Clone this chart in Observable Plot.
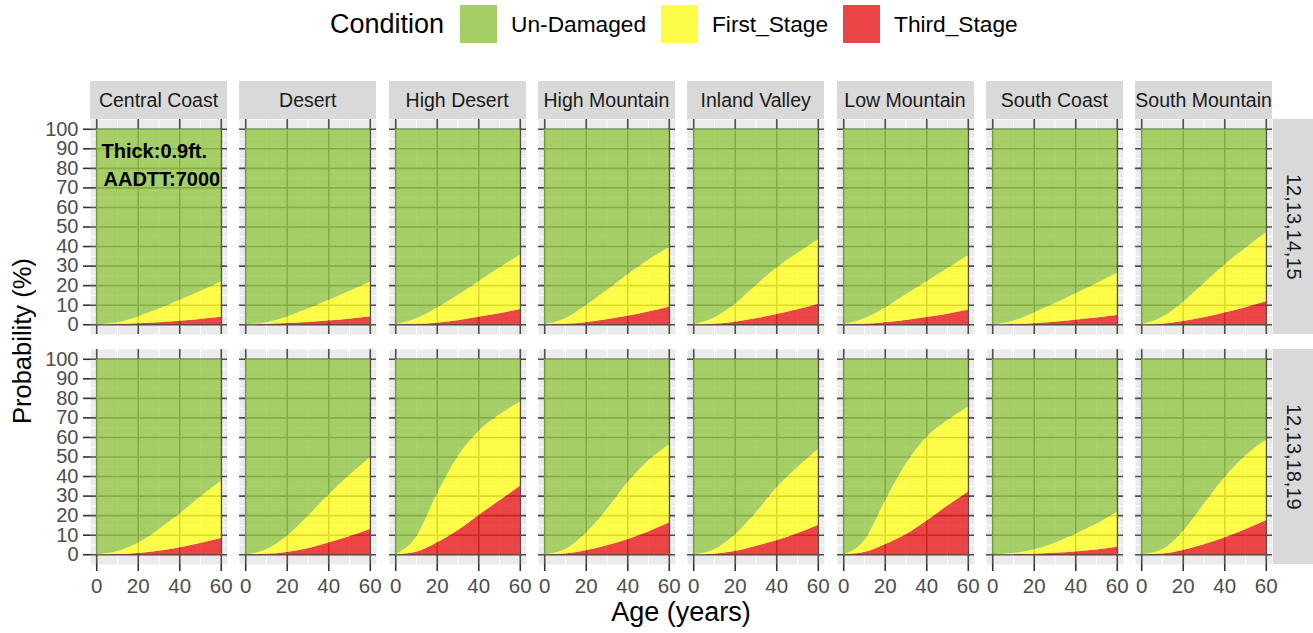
<!DOCTYPE html>
<html><head><meta charset="utf-8">
<script src="https://cdn.jsdelivr.net/npm/d3@7"></script>
<script src="https://cdn.jsdelivr.net/npm/@observablehq/plot@0.6"></script>
<style>
body{margin:0;background:#fff;font-family:"Liberation Sans",Arial,Helvetica,sans-serif;}
#root{position:relative;width:1313px;height:633px;overflow:hidden;background:#fff;}
.abs{position:absolute;}
.strip{position:absolute;background:#D9D9D9;color:#1A1A1A;font-size:19.5px;display:flex;align-items:center;justify-content:center;overflow:hidden;white-space:nowrap;}
.rstrip{writing-mode:vertical-rl;font-size:20px;}
.legend{position:absolute;top:5px;left:330px;height:38px;display:flex;align-items:center;white-space:nowrap;color:#000;}
.ltitle{font-size:27px;}
.lkey{width:37px;height:38px;background:#EBEBEB;position:relative;}
.lkey div{position:absolute;inset:0;opacity:0.8;}
.llab{font-size:22.7px;}
</style></head><body><div id="root"></div>
<script>
// ---- data ----
const regions = ["Central Coast","Desert","High Desert","High Mountain","Inland Valley","Low Mountain","South Coast","South Mountain"];
const ageGroups = ["12,13,14,15","12,13,18,19"];
const conditions = ["Un-Damaged","First_Stage","Third_Stage"];
const conditionColors = ["#94C745","#FFFF1F","#EB1A1A"];
const ages = [0,10,20,30,40,50,60];
const xTicks = [0,20,40,60];
const yTicks = [0,10,20,30,40,50,60,70,80,90,100];
const annotations = ["Thick:0.9ft.","AADTT:7000"];

// First_Stage probability (%) by region, age group 12,13,14,15
const firstStage_12_13_14_15 = [
  [0,0.9,3.5,7,10.7,14.3,18.2],
  [0,0.9,3.4,6.9,10.6,14.2,17.9],
  [0,2.8,7.8,13,18.2,23.4,27.7],
  [0,2.8,8.8,15,21.3,26.5,30.5],
  [0,3.2,9.2,17,23.8,28.9,33.2],
  [0,2.8,7.6,13.1,18.3,23.3,27.9],
  [0,1.7,5.5,9.5,13.6,17.6,21.7],
  [0,3.5,9.9,17.4,24.6,30.3,35.3]
];
// Third_Stage probability (%) by region, age group 12,13,14,15
const thirdStage_12_13_14_15 = [
  [0,0.1,0.5,1,1.8,2.7,3.8],
  [0,0.1,0.6,1.1,1.9,2.8,3.9],
  [0,0.2,0.8,2,3.8,5.6,7.8],
  [0,0.2,1,2.5,4.3,6.5,9],
  [0,0.3,1.3,3,5.2,7.6,10.3],
  [0,0.2,1,2.2,3.7,5.4,7.4],
  [0,0.1,0.5,1.3,2.3,3.4,4.7],
  [0,0.3,1.6,3.6,6,8.7,11.7]
];
// First_Stage probability (%) by region, age group 12,13,18,19
const firstStage_12_13_18_19 = [
  [0,1.5,5.3,11,17.3,23.8,29.4],
  [0,2.3,8.3,16.5,24.5,31.3,36.7],
  [0,7.7,25,37.7,43,44,43],
  [0,2.3,9,18.4,29.1,36.4,40],
  [0,2.2,8.6,17.2,27.1,33.8,39],
  [0,5.9,22.3,36,42.9,43.7,43.5],
  [0,0.55,2.2,5.2,9.2,13.2,17.9],
  [0,2.1,9.7,20.6,30.9,37.7,41.2]
];
// Third_Stage probability (%) by region, age group 12,13,18,19
const thirdStage_12_13_18_19 = [
  [0,0.1,0.6,1.8,3.5,5.7,8.3],
  [0,0.2,1.1,3,6,9.2,12.9],
  [0,1.3,6,12.3,20,27.5,35],
  [0,0.4,2,4.6,7.7,11.6,16.2],
  [0,0.3,1.6,4.2,7.1,10.7,15],
  [0,1.1,5.1,10.2,17.1,24.8,32],
  [0,0.05,0.3,0.7,1.4,2.4,3.8],
  [0,0.4,2.2,5.1,8.5,12.8,17.4]
];

// ---- layout ----
const root = document.getElementById("root");
const FONT = '"Liberation Sans",Arial,Helvetica,sans-serif';
const plotLeft = 90, colStep = 149.3, pw = 137, ph = 215;
const rowTops = [119, 349];
const stripTop = 81, stripH = 38;
const firstByRow = [firstStage_12_13_14_15, firstStage_12_13_18_19];
const thirdByRow = [thirdStage_12_13_14_15, thirdStage_12_13_18_19];
const xMinor = [10,30,50];
const yMinor = d3.range(5,100,10);

// legend
const leg = document.createElement("div");
leg.className = "legend";
let html = '<span class="ltitle">Condition</span>';
conditions.forEach((c,i) => {
  html += `<span class="lkey" style="margin-left:${i===0?16:15}px"><div style="background:${conditionColors[i]}"></div></span>`;
  html += `<span class="llab" style="margin-left:14px">${c}</span>`;
});
leg.innerHTML = html;
root.appendChild(leg);

// column strips
regions.forEach((r,c) => {
  const s = document.createElement("div");
  s.className = "strip";
  s.style.left = (plotLeft + c*colStep) + "px";
  s.style.top = stripTop + "px";
  s.style.width = pw + "px";
  s.style.height = stripH + "px";
  s.textContent = r;
  root.appendChild(s);
});
// row strips
ageGroups.forEach((g,r) => {
  const s = document.createElement("div");
  s.className = "strip rstrip";
  s.style.left = "1273px";
  s.style.top = rowTops[r] + "px";
  s.style.width = "40px";
  s.style.height = ph + "px";
  s.textContent = g;
  root.appendChild(s);
});

function panel(r, c) {
  const ml = c === 0 ? 90 : 0;
  const mb = r === 1 ? 50 : 0;
  const first = firstByRow[r][c], third = thirdByRow[r][c];
  const rows = [];
  ages.forEach((a,i) => {
    rows.push({age:a, condition:"Third_Stage", value:third[i]});
    rows.push({age:a, condition:"First_Stage", value:first[i]});
    rows.push({age:a, condition:"Un-Damaged", value:100 - first[i] - third[i]});
  });
  const marks = [
    Plot.frame({fill:"#EBEBEB"}),
    Plot.ruleX(xMinor, {stroke:"#fff", strokeWidth:1}),
    Plot.ruleY(yMinor, {stroke:"#fff", strokeWidth:1}),
    Plot.ruleX(xTicks, {stroke:"#4D4D4D", strokeWidth:1.6}),
    Plot.ruleY(yTicks, {stroke:"#4D4D4D", strokeWidth:1.6}),
    Plot.areaY(rows, {x:"age", y:"value", fill:"condition", order:["Third_Stage","First_Stage","Un-Damaged"], curve:"monotone-x", fillOpacity:0.8})
  ];
  if (c === 0) marks.push(Plot.axisY(yTicks, {tickSize:7, tickPadding:5, fontSize:20, fill:"#4D4D4D", stroke:"#333", strokeWidth:1.6, label:null, tickFormat:d=>String(d)}));
  if (r === 1) marks.push(Plot.axisX(xTicks, {tickSize:7, tickPadding:7, fontSize:20.5, fill:"#4D4D4D", stroke:"#333", strokeWidth:1.6, label:null, tickFormat:d=>String(d)}));
  if (r === 0 && c === 0) {
    marks.push(Plot.text([annotations[0]], {text:d=>d, frameAnchor:"top-left", dx:11, dy:24, fontWeight:"bold", fontSize:20, fill:"#000"}));
    marks.push(Plot.text([annotations[1]], {text:d=>d, frameAnchor:"top-left", dx:13, dy:52, fontWeight:"bold", fontSize:20, fill:"#000"}));
  }
  const svg = Plot.plot({
    width: pw + ml, height: ph + mb,
    marginLeft: ml, marginRight: 0, marginTop: 0, marginBottom: mb,
    x: {domain:[-3,63], axis:null},
    y: {domain:[-5,105], axis:null},
    color: {domain:conditions, range:conditionColors},
    style: {background:"transparent", fontFamily:FONT, overflow:"visible"},
    marks
  });
  svg.style.position = "absolute";
  svg.style.left = (plotLeft + c*colStep - ml) + "px";
  svg.style.top = rowTops[r] + "px";
  root.appendChild(svg);
}
for (let r = 0; r < 2; r++) for (let c = 0; c < 8; c++) panel(r, c);

// axis titles
const xt = document.createElement("div");
xt.className = "abs";
Object.assign(xt.style, {left:"90px", width:"1182px", top:"596px", height:"32px", lineHeight:"32px", textAlign:"center", fontSize:"27px", color:"#000"});
xt.textContent = "Age (years)";
root.appendChild(xt);
const yt = document.createElement("div");
yt.className = "abs";
Object.assign(yt.style, {left:"6px", width:"32px", top:"119px", height:"444px", display:"flex", alignItems:"center", justifyContent:"center", writingMode:"vertical-rl", transform:"rotate(180deg)", fontSize:"25.5px", color:"#000", whiteSpace:"nowrap"});
yt.textContent = "Probability (%)";
root.appendChild(yt);
</script>
</body></html>
